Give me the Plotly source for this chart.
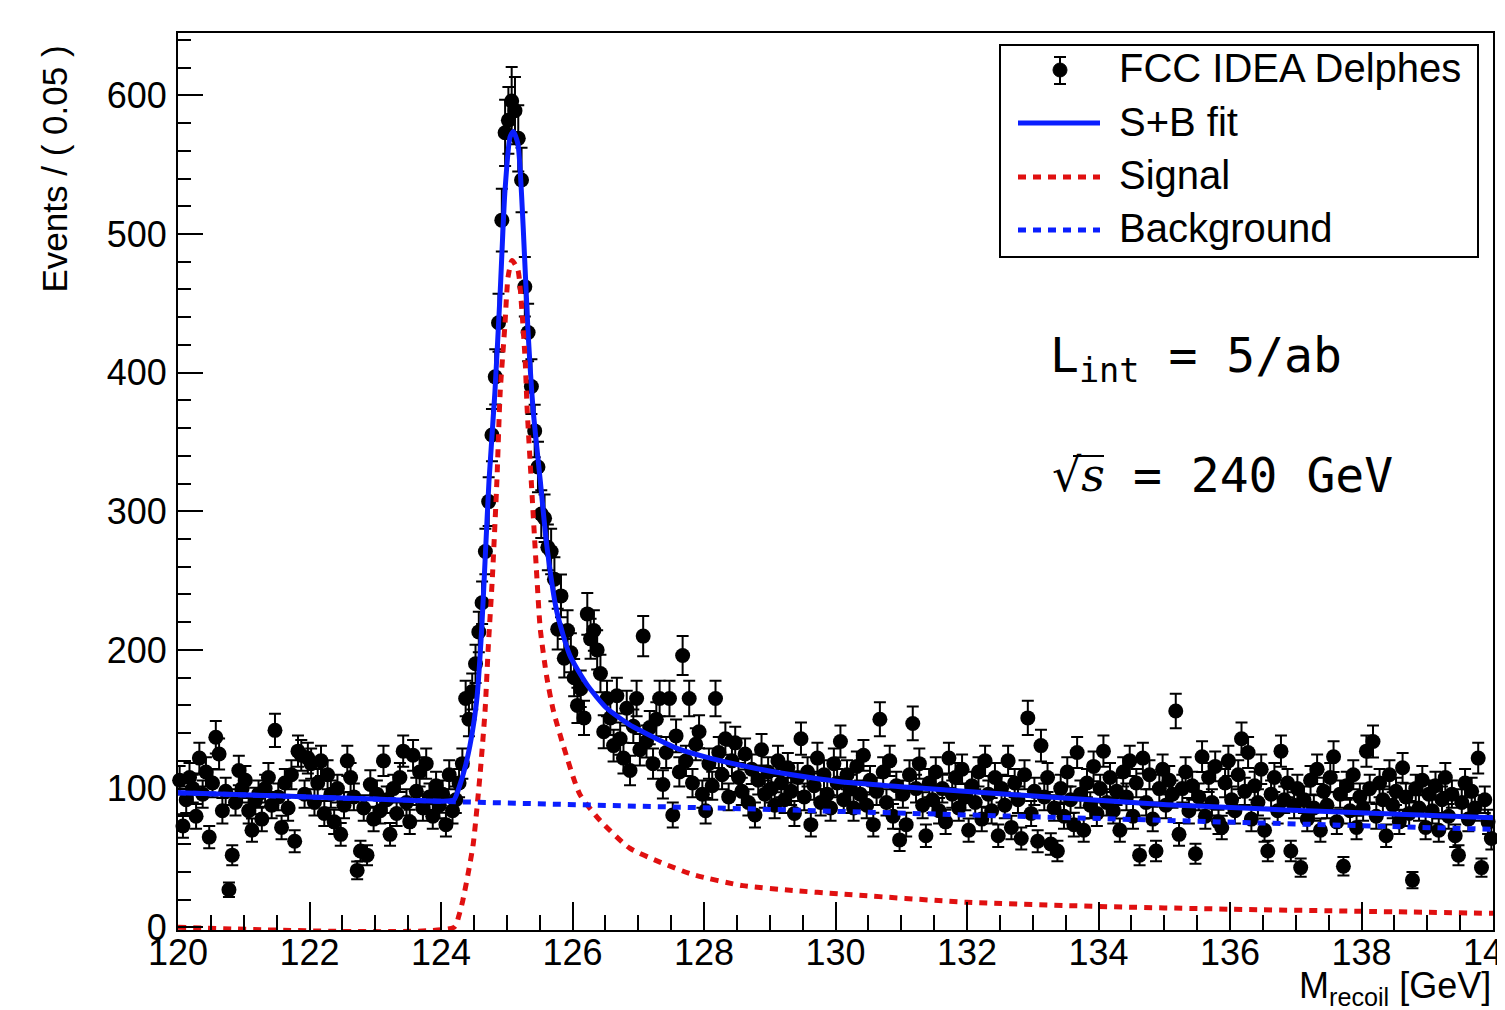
import numpy as np
import plotly.graph_objects as go

# recoil mass histogram, 0.05 GeV bins from 120 to 140 (one row per GeV)
bin_width = 0.05
counts = [
    106, 73, 92, 108, 100, 80, 122, 96, 112, 65, 104, 137, 125, 84, 98, 27, 52, 90, 113, 100,
    106, 84, 70, 91, 96, 78, 100, 108, 88, 142, 94, 72, 104, 86, 110, 62, 127, 124, 96, 122,
    118, 90, 104, 120, 82, 110, 96, 76, 100, 67, 88, 120, 108, 94, 41, 55, 86, 52, 103, 78,
    96, 84, 120, 92, 67, 100, 82, 108, 127, 90, 76, 124, 98, 112, 86, 118, 94, 80, 102, 88,
    96, 74, 110, 84, 92, 104, 118, 165, 150, 170, 190, 213, 234, 271, 307, 355, 397, 436, 510, 573,
    582, 596, 589, 569, 539, 462, 429, 390, 358, 332, 298, 295, 274, 271, 251, 215, 239, 194, 214, 198,
    180, 160, 172, 151, 226, 208, 214, 200, 183, 141, 165, 151, 131, 167, 136, 122, 158, 113, 145, 165,
    128, 210, 134, 144, 118, 150, 165, 103, 126, 165, 81, 138, 112, 196, 120, 165, 104, 132, 141, 96,
    84, 118, 102, 165, 126, 110, 136, 94, 120, 133, 108, 98, 125, 90, 114, 81, 106, 128, 96, 112,
    100, 88, 120, 104, 92, 115, 98, 82, 108, 136, 94, 112, 74, 102, 122, 90, 110, 96, 86, 118,
    104, 134, 92, 110, 100, 86, 116, 96, 124, 88, 106, 74, 98, 150, 112, 90, 120, 80, 102, 63,
    96, 74, 110, 147, 100, 118, 88, 66, 104, 92, 112, 84, 100, 76, 122, 96, 108, 86, 114, 94,
    70, 102, 90, 112, 78, 120, 96, 84, 108, 66, 100, 88, 120, 72, 104, 92, 64, 110, 151, 82,
    98, 62, 131, 94, 108, 60, 86, 55, 100, 80, 112, 92, 74, 126, 96, 70, 104, 88, 116, 82,
    100, 127, 90, 108, 84, 98, 70, 112, 94, 120, 80, 104, 52, 122, 90, 110, 78, 55, 100, 114,
    88, 106, 96, 156, 67, 100, 112, 84, 102, 53, 94, 123, 80, 108, 90, 116, 76, 72, 104, 120,
    92, 84, 110, 136, 98, 126, 78, 102, 90, 114, 70, 55, 96, 108, 84, 127, 92, 104, 55, 88,
    100, 43, 92, 78, 106, 86, 114, 70, 98, 88, 108, 123, 76, 96, 44, 102, 84, 110, 72, 94,
    86, 127, 100, 134, 80, 104, 92, 66, 110, 88, 98, 76, 115, 94, 82, 34, 100, 86, 106, 72,
    96, 84, 102, 70, 92, 108, 80, 96, 66, 52, 90, 104, 78, 98, 86, 122, 43, 92, 76, 64,
]
mass = 120 + bin_width * (np.arange(len(counts)) + 0.5)

# fitted curves
sb_x = [120, 121, 122, 123, 123.5, 124.1, 124.2, 124.29, 124.37, 124.44, 124.5, 124.55,
        124.62, 124.67, 124.73, 124.82, 124.9, 124.97, 125.05, 125.1, 125.17, 125.25,
        125.32, 125.4, 125.51, 125.61, 125.76, 125.96, 126.22, 126.52, 126.87, 127.07,
        127.59, 128.09, 128.85, 129.61, 130.07, 131.69, 133.41, 135.04, 136.76, 140]
sb_y = [97, 95.5, 94, 92.5, 91.5, 91, 92, 103, 116, 131, 148, 167,
        216, 264, 322, 386, 458, 529, 570, 574, 565, 505,
        433, 374, 322, 275, 228, 196, 175, 158, 146, 141,
        129, 122, 114, 108, 105, 99, 93.4, 88.4, 84.8, 79]

sig_x = [120, 124.2, 124.27, 124.33, 124.41, 124.49, 124.59, 124.67, 124.72, 124.78, 124.85,
         124.9, 124.97, 125.02, 125.08, 125.17, 125.23, 125.28, 125.31, 125.37, 125.46,
         125.51, 125.61, 125.71, 125.86, 126.11, 126.42, 126.87, 127.33, 127.83, 128.59,
         129.35, 130.07, 132, 134, 136, 138, 140]
sig_y = [0, 0, 8, 19, 38, 60, 108, 156, 203, 251, 322,
         386, 433, 469, 481, 474, 445, 409, 374, 324, 251,
         215, 180, 156, 131, 96, 77, 57, 47, 38, 30,
         26.5, 24, 18, 15, 13, 11.5, 10]

bkg_x = [120, 121, 122, 123, 124, 125, 126, 127, 128, 129, 130,
         131, 132, 133, 134, 135, 136, 137, 138, 139, 140]
bkg_y = [97, 95.3, 93.6, 92, 90.8, 89.6, 88.6, 87.5, 86.3, 85, 83.6,
         82.3, 81, 79.7, 78.5, 77.2, 76, 74.7, 73.3, 72, 70.6]

legend_labels = ["FCC IDEA Delphes", "S+B fit", "Signal", "Background"]

BLUE = "#0a1eff"
RED = "#e01010"
FONT = "Liberation Sans, Arial, sans-serif"
MONO = "DejaVu Sans Mono, monospace"

# pixel -> paper helpers for the frame decorations (page pixels of the frame)
X0, X1, Y0, Y1 = 178, 1493, 930, 33
def px(x):
    return (x - X0) / (X1 - X0)
def py(y):
    return (Y0 - y) / (Y0 - Y1)

fig = go.Figure()
fig.add_trace(go.Scatter(x=mass, y=counts, mode="markers",
                         marker=dict(color="black", size=15),
                         error_y=dict(type="data", array=np.sqrt(counts), color="black",
                                      thickness=2, width=6),
                         cliponaxis=False, showlegend=False))
fig.add_trace(go.Scatter(x=sb_x, y=sb_y, mode="lines",
                         line=dict(color=BLUE, width=5, shape="spline", smoothing=0.6),
                         showlegend=False))
fig.add_trace(go.Scatter(x=sig_x, y=sig_y, mode="lines",
                         line=dict(color=RED, width=5, dash="8px,7px", shape="spline", smoothing=0.6),
                         cliponaxis=False, showlegend=False))
fig.add_trace(go.Scatter(x=bkg_x, y=bkg_y, mode="lines",
                         line=dict(color=BLUE, width=5, dash="8px,7px"),
                         showlegend=False))

# hand-made ROOT style legend
shapes = [dict(type="rect", xref="paper", yref="paper", x0=px(1000), x1=px(1478),
               y0=py(257), y1=py(45), line=dict(color="black", width=2), fillcolor="white",
               layer="below")]
shapes += [
    dict(type="line", xref="paper", yref="paper", x0=px(1060), x1=px(1060), y0=py(57), y1=py(84),
         line=dict(color="black", width=2)),
    dict(type="line", xref="paper", yref="paper", x0=px(1054), x1=px(1066), y0=py(57), y1=py(57),
         line=dict(color="black", width=2)),
    dict(type="line", xref="paper", yref="paper", x0=px(1054), x1=px(1066), y0=py(84), y1=py(84),
         line=dict(color="black", width=2)),
    dict(type="circle", xref="paper", yref="paper", xsizemode="pixel", ysizemode="pixel",
         xanchor=px(1060), yanchor=py(70), x0=-7, x1=7, y0=-7, y1=7,
         fillcolor="black", line=dict(color="black", width=1)),
    dict(type="line", xref="paper", yref="paper", x0=px(1018), x1=px(1100), y0=py(123), y1=py(123),
         line=dict(color=BLUE, width=5)),
    dict(type="line", xref="paper", yref="paper", x0=px(1018), x1=px(1100), y0=py(177), y1=py(177),
         line=dict(color=RED, width=5, dash="8px,7px")),
    dict(type="line", xref="paper", yref="paper", x0=px(1018), x1=px(1100), y0=py(230), y1=py(230),
         line=dict(color=BLUE, width=5, dash="8px,7px")),
    # bar over the s of sqrt(s)
    dict(type="line", xref="paper", yref="paper", x0=px(1073), x1=px(1104), y0=py(456), y1=py(456),
         line=dict(color="black", width=2)),
]

annotations = []
for label, yy in zip(legend_labels, [68, 122, 175, 228]):
    annotations.append(dict(text=label, xref="paper", yref="paper", x=px(1117), y=py(yy),
                            xanchor="left", yanchor="middle", showarrow=False,
                            font=dict(family=FONT, size=40, color="black")))
annotations += [
    dict(text="Events / ( 0.05 )", xref="paper", yref="paper", x=px(54), y=py(44),
         xanchor="center", yanchor="top", textangle=-90, showarrow=False,
         font=dict(family=FONT, size=35, color="black")),
    dict(text="M<sub>recoil</sub> [GeV]", xref="paper", yref="paper", x=1.0, y=py(988),
         xanchor="right", yanchor="middle", showarrow=False,
         font=dict(family=FONT, size=36, color="black")),
    dict(text="L<sub>int</sub> = 5/ab", xref="paper", yref="paper", x=px(1048), y=py(358),
         xanchor="left", yanchor="middle", showarrow=False,
         font=dict(family=MONO, size=48, color="black")),
    dict(text="√<i>s</i>", xref="paper", yref="paper", x=px(1050), y=py(475),
         xanchor="left", yanchor="middle", showarrow=False,
         font=dict(family="DejaVu Serif, serif", size=46, color="black")),
    dict(text="= 240 GeV", xref="paper", yref="paper", x=px(1131), y=py(475),
         xanchor="left", yanchor="middle", showarrow=False,
         font=dict(family=MONO, size=48, color="black")),
]

# the page body adds an 8px offset, so margins are shifted to land the frame on 178..1493 / 33..930
fig.update_layout(
    width=1505, height=1010,
    margin=dict(l=170, r=20, t=25, b=88),
    paper_bgcolor="white", plot_bgcolor="white",
    shapes=shapes, annotations=annotations,
    showlegend=False,
)
fig.update_xaxes(range=[120, 140], tickvals=list(range(120, 141, 2)),
                 ticks="inside", ticklen=28, tickwidth=2, tickcolor="black",
                 minor=dict(dtick=0.5, ticks="inside", ticklen=15, tickwidth=2, tickcolor="black"),
                 showline=True, linecolor="black", linewidth=2, mirror=True,
                 showgrid=False, zeroline=False, automargin=False,
                 ticklabeloverflow="allow", ticklabelstandoff=-10,
                 tickfont=dict(family=FONT, size=36, color="black"))
fig.update_yaxes(range=[-2, 645], tickvals=list(range(0, 601, 100)),
                 ticks="inside", ticklen=25, tickwidth=2, tickcolor="black",
                 minor=dict(dtick=20, ticks="inside", ticklen=13, tickwidth=2, tickcolor="black"),
                 showline=True, linecolor="black", linewidth=2, mirror=True,
                 showgrid=False, zeroline=False, automargin=False,
                 ticklabelstandoff=2,
                 tickfont=dict(family=FONT, size=36, color="black"))

fig.write_html("out.html")
